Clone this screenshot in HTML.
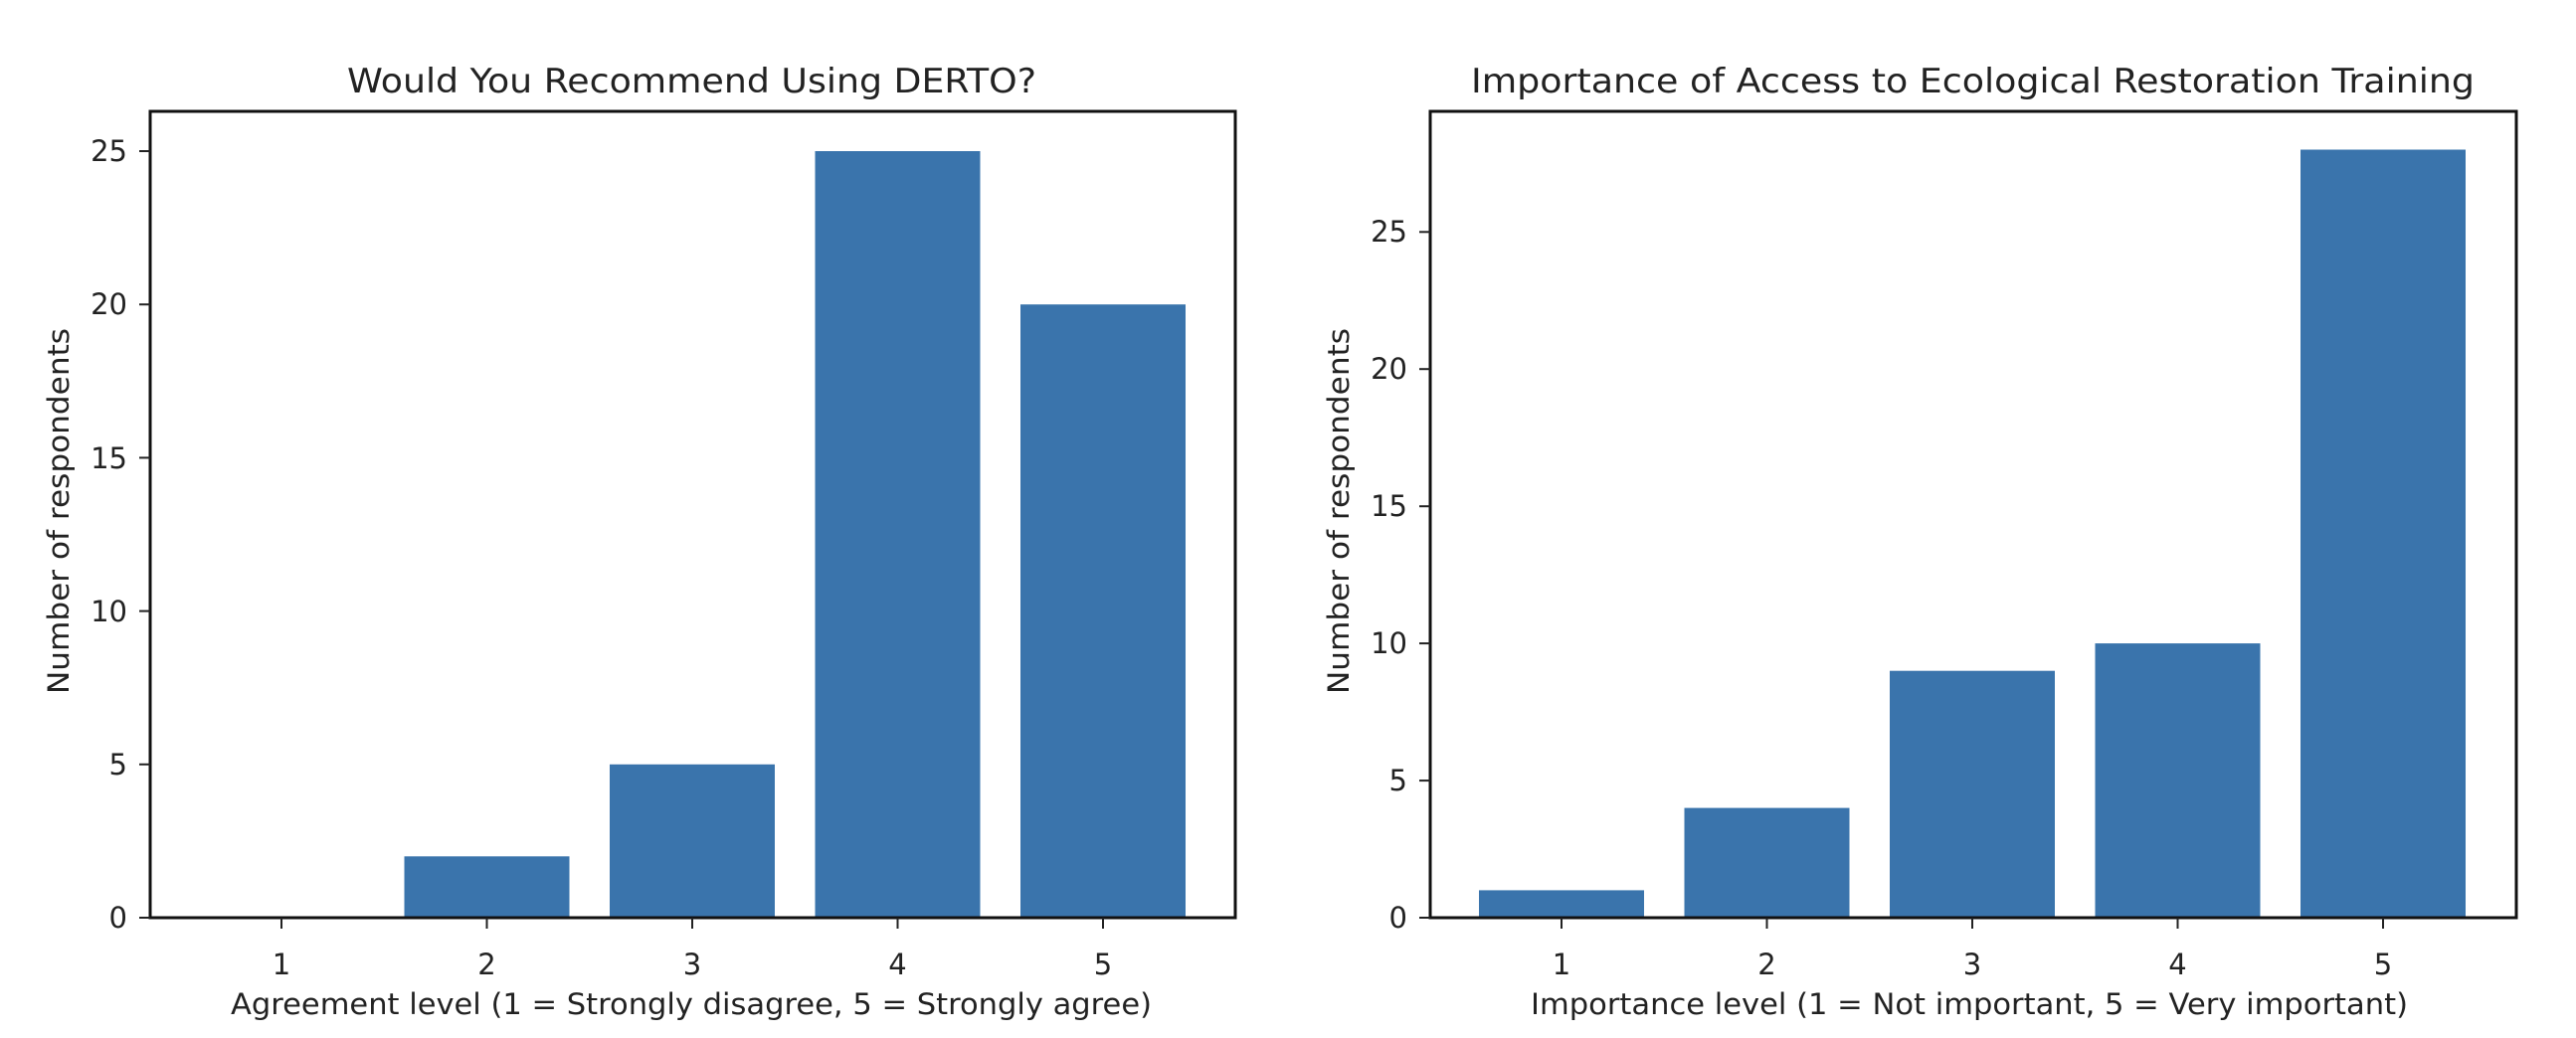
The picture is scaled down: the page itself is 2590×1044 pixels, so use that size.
<!DOCTYPE html>
<html><head><meta charset="utf-8"><style>
html,body{margin:0;padding:0;background:#fff;}
svg{display:block;}
text{font-family:"DejaVu Sans","Liberation Sans",sans-serif;fill:#222;}
</style></head><body>
<svg width="2590" height="1044" viewBox="0 0 2590 1044" xmlns="http://www.w3.org/2000/svg">
<!-- LEFT CHART -->
<g>
  <g fill="#3a74ac">
    <rect x="406.5" y="861.3" width="166" height="61.7"/>
    <rect x="613" y="768.8" width="166" height="154.2"/>
    <rect x="819.5" y="152" width="166" height="771"/>
    <rect x="1026" y="306.2" width="166" height="616.8"/>
  </g>
  <rect x="151" y="112" width="1091" height="811" fill="none" stroke="#111" stroke-width="3"/>
  <g stroke="#222" stroke-width="2">
    <line x1="140" y1="923" x2="151" y2="923"/><line x1="140" y1="768.8" x2="151" y2="768.8"/>
    <line x1="140" y1="614.6" x2="151" y2="614.6"/><line x1="140" y1="460.4" x2="151" y2="460.4"/>
    <line x1="140" y1="306.2" x2="151" y2="306.2"/><line x1="140" y1="152" x2="151" y2="152"/>
    <line x1="283" y1="923" x2="283" y2="934"/><line x1="489.5" y1="923" x2="489.5" y2="934"/>
    <line x1="696" y1="923" x2="696" y2="934"/><line x1="902.5" y1="923" x2="902.5" y2="934"/>
    <line x1="1109" y1="923" x2="1109" y2="934"/>
  </g>
  <g font-size="29" text-anchor="end">
    <text x="128" y="933">0</text><text x="128" y="779">5</text><text x="128" y="625">10</text>
    <text x="128" y="471">15</text><text x="128" y="316">20</text><text x="128" y="162">25</text>
  </g>
  <g font-size="29" text-anchor="middle">
    <text x="283" y="980">1</text><text x="489.5" y="980">2</text><text x="696" y="980">3</text>
    <text x="902.5" y="980">4</text><text x="1109" y="980">5</text>
  </g>
  <text x="232" y="1020" font-size="29" textLength="926" lengthAdjust="spacingAndGlyphs">Agreement level (1 = Strongly disagree, 5 = Strongly agree)</text>
  <text x="349" y="93" font-size="34" textLength="693" lengthAdjust="spacingAndGlyphs">Would You Recommend Using DERTO?</text>
  <text transform="translate(69,698) rotate(-90)" font-size="29" textLength="368" lengthAdjust="spacingAndGlyphs">Number of respondents</text>
</g>
<!-- RIGHT CHART -->
<g>
  <g fill="#3a74ac">
    <rect x="1487" y="895.4" width="166" height="27.6"/>
    <rect x="1693.5" y="812.6" width="166" height="110.4"/>
    <rect x="1900" y="674.7" width="166" height="248.3"/>
    <rect x="2106.5" y="647.1" width="166" height="275.9"/>
    <rect x="2313" y="150.5" width="166" height="772.5"/>
  </g>
  <rect x="1438" y="112" width="1092" height="811" fill="none" stroke="#111" stroke-width="3"/>
  <g stroke="#222" stroke-width="2">
    <line x1="1427" y1="923" x2="1438" y2="923"/><line x1="1427" y1="785.1" x2="1438" y2="785.1"/>
    <line x1="1427" y1="647.1" x2="1438" y2="647.1"/><line x1="1427" y1="509.2" x2="1438" y2="509.2"/>
    <line x1="1427" y1="371.2" x2="1438" y2="371.2"/><line x1="1427" y1="233.3" x2="1438" y2="233.3"/>
    <line x1="1570" y1="923" x2="1570" y2="934"/><line x1="1776.5" y1="923" x2="1776.5" y2="934"/>
    <line x1="1983" y1="923" x2="1983" y2="934"/><line x1="2189.5" y1="923" x2="2189.5" y2="934"/>
    <line x1="2396" y1="923" x2="2396" y2="934"/>
  </g>
  <g font-size="29" text-anchor="end">
    <text x="1415" y="933">0</text><text x="1415" y="795">5</text><text x="1415" y="657">10</text>
    <text x="1415" y="519">15</text><text x="1415" y="381">20</text><text x="1415" y="243">25</text>
  </g>
  <g font-size="29" text-anchor="middle">
    <text x="1570" y="980">1</text><text x="1776.5" y="980">2</text><text x="1983" y="980">3</text>
    <text x="2189.5" y="980">4</text><text x="2396" y="980">5</text>
  </g>
  <text x="1539" y="1020" font-size="29" textLength="882" lengthAdjust="spacingAndGlyphs">Importance level (1 = Not important, 5 = Very important)</text>
  <text x="1479" y="93" font-size="34" textLength="1009" lengthAdjust="spacingAndGlyphs">Importance of Access to Ecological Restoration Training</text>
  <text transform="translate(1356,698) rotate(-90)" font-size="29" textLength="368" lengthAdjust="spacingAndGlyphs">Number of respondents</text>
</g>
</svg>
</body></html>
